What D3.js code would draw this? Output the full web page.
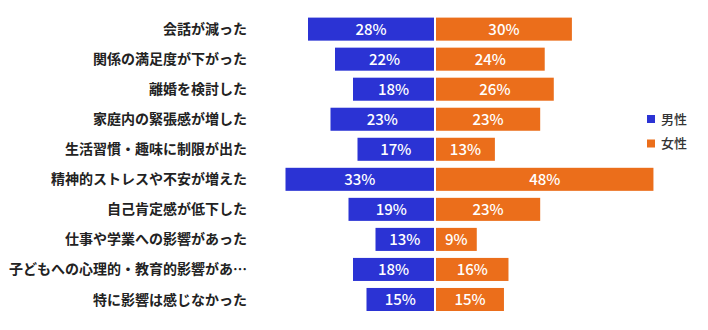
<!DOCTYPE html>
<html><head><meta charset="utf-8">
<script src="https://cdn.jsdelivr.net/npm/d3@7/dist/d3.min.js"></script>
<style>body{margin:0;background:#fff;} text{font-family:"Noto Sans CJK JP","Noto Sans",sans-serif;}</style>
</head><body><svg id="c" width="708" height="330"></svg>
<script>
const categories = ["会話が減った","関係の満足度が下がった","離婚を検討した","家庭内の緊張感が増した","生活習慣・趣味に制限が出た","精神的ストレスや不安が増えた","自己肯定感が低下した","仕事や学業への影響があった","子どもへの心理的・教育的影響があ…","特に影響は感じなかった"];
const male = [28,22,18,23,17,33,19,13,18,15];
const female = [30,24,26,23,13,48,23,9,16,15];
const seriesNames = ["男性","女性"];
const colors = ["#2b33d4","#eb6e1b"];

const svg = d3.select("#c");
const center = 434, gap = 2;
const xL = d3.scaleLinear().domain([0,35]).range([center, center-35*4.5]);
const xR = d3.scaleLinear().domain([0,50]).range([center+gap, center+gap+50*4.53]);
const y = d3.scaleBand().domain(categories).range([14.3, 314.3]).paddingInner(0.233).paddingOuter(0.11);

const g = svg.append("g");
g.selectAll("rect.m").data(categories).join("rect")
  .attr("x",(d,i)=>xL(male[i])).attr("y",d=>y(d))
  .attr("width",(d,i)=>xL(0)-xL(male[i])).attr("height",y.bandwidth())
  .attr("fill",colors[0]);
g.selectAll("rect.f").data(categories).join("rect")
  .attr("x",xR(0)).attr("y",d=>y(d))
  .attr("width",(d,i)=>xR(female[i])-xR(0)).attr("height",y.bandwidth())
  .attr("fill",colors[1]);

g.selectAll("text.ml").data(categories).join("text")
  .attr("x",(d,i)=>(xL(male[i])+xL(0))/2).attr("y",d=>y(d)+y.bandwidth()/2)
  .attr("dy","0.36em").attr("text-anchor","middle").attr("fill","#fff")
  .attr("font-size",15).attr("font-weight",500).text((d,i)=>male[i]+"%");
g.selectAll("text.fl").data(categories).join("text")
  .attr("x",(d,i)=>(xR(female[i])+xR(0))/2).attr("y",d=>y(d)+y.bandwidth()/2)
  .attr("dy","0.36em").attr("text-anchor","middle").attr("fill","#fff")
  .attr("font-size",15).attr("font-weight",500).text((d,i)=>female[i]+"%");

g.selectAll("text.cat").data(categories).join("text")
  .attr("x",247).attr("y",d=>y(d)+y.bandwidth()/2)
  .attr("dy","0.36em").attr("text-anchor","end").attr("fill","#222")
  .attr("font-size",14).attr("font-weight","bold").text(d=>d);

const lg = svg.append("g");
seriesNames.forEach((n,i)=>{
  const cy = 119 + i*24.5;
  lg.append("rect").attr("x",647).attr("y",cy-4).attr("width",8).attr("height",8).attr("fill",colors[i]);
  lg.append("text").attr("x",661).attr("y",cy).attr("dy","0.36em").attr("font-size",13)
    .attr("font-weight",500).attr("fill","#333").text(n);
});
</script></body></html>
